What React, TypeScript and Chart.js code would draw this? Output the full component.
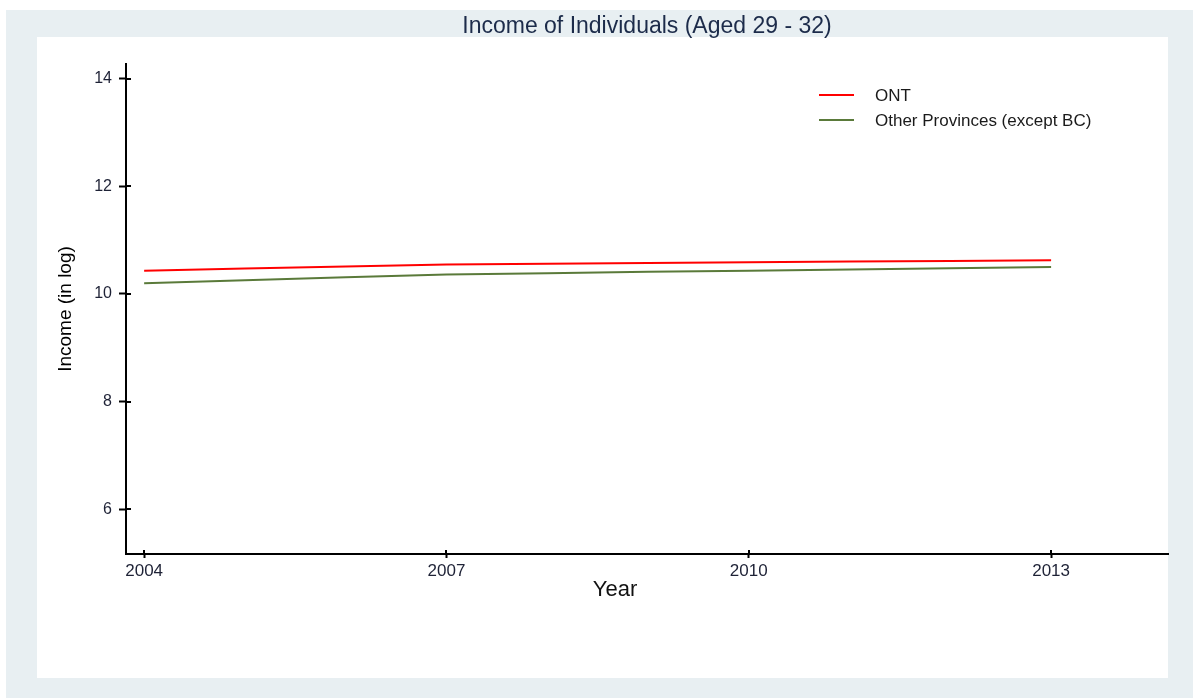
import React, { useEffect, useRef } from "react";
import { Chart, registerables } from "chart.js";

Chart.register(...registerables);

const years = [2004, 2005, 2006, 2007, 2008, 2009, 2010, 2011, 2012, 2013];
const ontValues = [10.43, 10.47, 10.51, 10.545, 10.56, 10.575, 10.59, 10.6, 10.612, 10.625];
const otherValues = [10.2, 10.255, 10.31, 10.36, 10.385, 10.41, 10.43, 10.455, 10.478, 10.5];
const xTickValues = [2004, 2007, 2010, 2013];
const yTickValues = [6, 8, 10, 12, 14];
const seriesNames = ["ONT", "Other Provinces (except BC)"];
const seriesColors = ["#ff0000", "#5a7a3a"];
const chartTitle = "Income of Individuals (Aged 29 - 32)";

const FONT = "'Liberation Sans', Arial, sans-serif";

const backgroundPlugin = {
  id: "stataBackground",
  beforeDraw(chart: any) {
    const ctx = chart.ctx;
    ctx.save();
    ctx.fillStyle = "#ffffff";
    ctx.fillRect(0, 0, chart.width, chart.height);
    ctx.fillStyle = "#e8eff2";
    ctx.fillRect(6, 10, chart.width - 6, chart.height - 10);
    ctx.fillStyle = "#ffffff";
    ctx.fillRect(37, 37, 1168 - 37, 678 - 37);
    ctx.restore();
  },
};

const extrasPlugin = {
  id: "stataExtras",
  afterDraw(chart: any) {
    const ctx = chart.ctx;
    const xs = chart.scales.x;
    const ys = chart.scales.y;
    const area = chart.chartArea;
    ctx.save();
    // title
    ctx.fillStyle = "#1c2b4a";
    ctx.font = `23px ${FONT}`;
    ctx.textAlign = "center";
    ctx.textBaseline = "middle";
    ctx.fillText(chartTitle, (area.left + area.right) / 2, 27);
    // inward tick parts
    ctx.strokeStyle = "#000";
    ctx.lineWidth = 2;
    ys.ticks.forEach((t: any) => {
      const py = Math.round(ys.getPixelForValue(t.value));
      ctx.beginPath();
      ctx.moveTo(area.left, py);
      ctx.lineTo(area.left + 5, py);
      ctx.stroke();
    });
    xs.ticks.forEach((t: any) => {
      const px = Math.round(xs.getPixelForValue(t.value));
      ctx.beginPath();
      ctx.moveTo(px, area.bottom);
      ctx.lineTo(px, area.bottom - 4);
      ctx.stroke();
    });
    // x axis title
    ctx.fillStyle = "#111111";
    ctx.font = `22px ${FONT}`;
    ctx.textAlign = "center";
    ctx.textBaseline = "middle";
    ctx.fillText("Year", 615, 590);
    // legend
    ctx.font = `17px ${FONT}`;
    ctx.textAlign = "left";
    seriesNames.forEach((name, i) => {
      const y = 95 + i * 25;
      ctx.strokeStyle = seriesColors[i];
      ctx.lineWidth = 2;
      ctx.beginPath();
      ctx.moveTo(819, y);
      ctx.lineTo(854, y);
      ctx.stroke();
      ctx.fillStyle = "#1a1a1a";
      ctx.fillText(name, 875, y + 1);
    });
    ctx.restore();
  },
};

export default function App() {
  const canvasRef = useRef<HTMLCanvasElement | null>(null);

  useEffect(() => {
    if (!canvasRef.current) return;
    const chart = new Chart(canvasRef.current, {
      type: "line",
      data: {
        datasets: [
          {
            label: seriesNames[0],
            data: years.map((y, i) => ({ x: y, y: ontValues[i] })),
            borderColor: seriesColors[0],
            backgroundColor: seriesColors[0],
            borderWidth: 2,
            pointRadius: 0,
            tension: 0,
          },
          {
            label: seriesNames[1],
            data: years.map((y, i) => ({ x: y, y: otherValues[i] })),
            borderColor: seriesColors[1],
            backgroundColor: seriesColors[1],
            borderWidth: 2,
            pointRadius: 0,
            tension: 0,
          },
        ],
      },
      plugins: [backgroundPlugin, extrasPlugin],
      options: {
        animation: false,
        responsive: false,
        devicePixelRatio: 1,
        layout: { padding: { left: 50, right: 25, top: 64, bottom: 104 } },
        plugins: {
          legend: { display: false },
          tooltip: { enabled: false },
          title: { display: false },
        },
        scales: {
          x: {
            type: "linear",
            min: 2003.82,
            max: 2014.16,
            afterFit(scale: any) {
              scale.height = 40;
            },
            afterBuildTicks(scale: any) {
              scale.ticks = xTickValues.map((v) => ({ value: v }));
            },
            ticks: {
              color: "#1e2236",
              font: { family: FONT, size: 17 },
              padding: 3,
              maxRotation: 0,
              autoSkip: false,
              callback: (v: any) => String(v),
            },
            grid: {
              drawOnChartArea: false,
              drawTicks: true,
              tickLength: 4,
              tickWidth: 2,
              tickColor: "#000",
            },
            border: { display: true, color: "#000", width: 2 },
          },
          y: {
            type: "linear",
            min: 5.17,
            max: 14.27,
            afterFit(scale: any) {
              scale.width = 76;
            },
            afterBuildTicks(scale: any) {
              scale.ticks = yTickValues.map((v) => ({ value: v }));
            },
            ticks: {
              color: "#1e2236",
              font: { family: FONT, size: 16 },
              padding: 7,
              autoSkip: false,
              callback: (v: any) => String(v),
            },
            grid: {
              drawOnChartArea: false,
              drawTicks: true,
              tickLength: 7,
              tickWidth: 2,
              tickColor: "#000",
            },
            border: { display: true, color: "#000", width: 2 },
            title: {
              display: true,
              text: "Income (in log)",
              color: "#000",
              font: { family: FONT, size: 19 },
              padding: { top: 4, bottom: 4 },
            },
          },
        },
      },
    });
    return () => chart.destroy();
  }, []);

  return (
    <div style={{ position: "fixed", left: 0, top: 0, width: 1193, height: 698, background: "#fff" }}>
      <canvas ref={canvasRef} width={1193} height={698} style={{ display: "block", width: 1193, height: 698 }} />
    </div>
  );
}
